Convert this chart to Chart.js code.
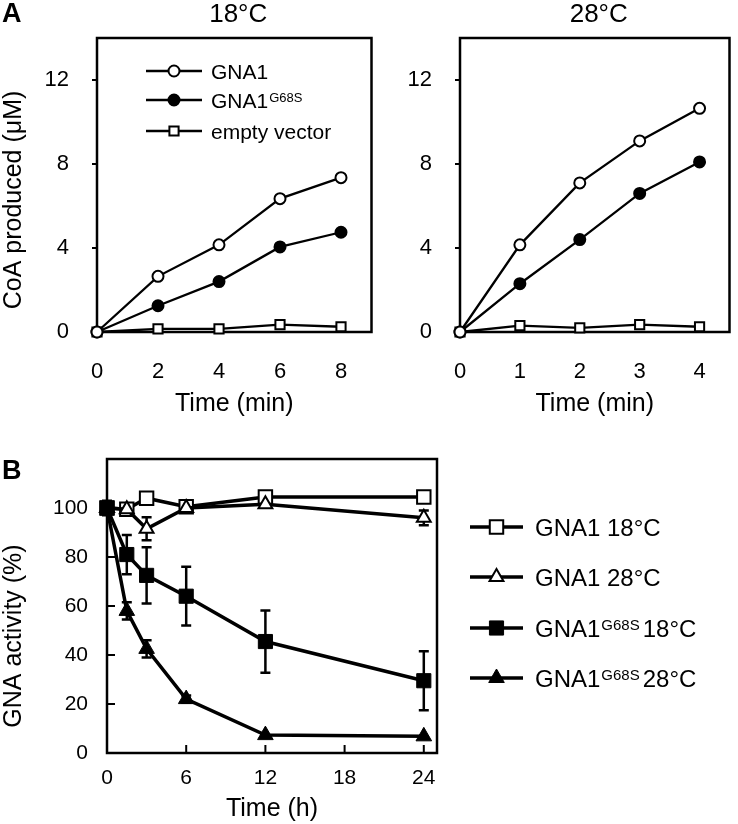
<!DOCTYPE html>
<html>
<head>
<meta charset="utf-8">
<script src="https://cdn.jsdelivr.net/npm/chart.js@4.4.1/dist/chart.umd.min.js"></script>
<style>
  body { margin: 0; background: #fff; }
  #wrap { position: relative; width: 738px; height: 824px; }
  canvas { position: absolute; }
</style>
</head>
<body>
<div id="wrap">
  <canvas id="a18" width="380" height="420" style="left:0;top:0"></canvas>
  <canvas id="a28" width="358" height="420" style="left:380px;top:0"></canvas>
  <canvas id="b" width="738" height="404" style="left:0;top:420px"></canvas>
</div>
<script>
// ---- panel A data (CoA produced, uM) ----
const timeA18 = [0, 2, 4, 6, 8];
const gna1A18 = [0, 2.65, 4.15, 6.35, 7.35];
const g68sA18 = [0, 1.25, 2.4, 4.05, 4.75];
const emptyA18 = [0, 0.15, 0.15, 0.35, 0.25];

const timeA28 = [0, 1, 2, 3, 4];
const gna1A28 = [0, 4.15, 7.1, 9.1, 10.65];
const g68sA28 = [0, 2.3, 4.4, 6.6, 8.1];
const emptyA28 = [0, 0.3, 0.2, 0.35, 0.25];

const yTicksA = [0, 4, 8, 12];
const xTicksA18 = [0, 2, 4, 6, 8];
const xTicksA28 = [0, 1, 2, 3, 4];
const namesA = ['GNA1', 'GNA1^G68S', 'empty vector'];

// ---- panel B data (GNA activity, %) ----
const timeB = [0, 1.5, 3, 6, 12, 24];
const gna18 = [100, 99.5, 104, 100.5, 104.5, 104.5];
const gna28 = [100, 99.5, 91.5, 100, 101.5, 96];
const mut18 = [100, 81, 72.5, 64, 45.5, 29.5];
const mut28 = [100, 58, 42.5, 22, 7.3, 6.8];
const gna18Err = [0, 0, 0, 0, 0, 0];
const gna28Err = [0, 0, 4.7, 0, 0, 3];
const mut18Err = [3, 8, 11.5, 12, 12.7, 12];
const mut28Err = [0, 3.5, 3.5, 1.5, 0, 0];

const yTicksB = [0, 20, 40, 60, 80, 100];
const xTicksB = [0, 6, 12, 18, 24];
const namesB = ['GNA1 18°C', 'GNA1 28°C', 'GNA1^G68S 18°C', 'GNA1^G68S 28°C'];

const FONT = '"Liberation Sans", Arial, sans-serif';
Chart.defaults.font.family = FONT;
Chart.defaults.color = '#000';

const pts = (xs, ys) => xs.map((x, i) => ({ x: x, y: ys[i] }));

function drawRich(ctx, text, x, y, size) {
  // y = visual middle of capitals; "^" starts a superscript
  const m = text.match(/^(.*?)\^(\S+)\s?(.*)$/);
  const base = y + size * 0.358;
  ctx.textBaseline = 'alphabetic';
  ctx.textAlign = 'left';
  ctx.font = size + 'px ' + FONT;
  if (!m) { ctx.fillText(text, x, base); return; }
  ctx.fillText(m[1], x, base);
  let cx = x + ctx.measureText(m[1]).width + 1;
  const sup = Math.round(size * 0.62);
  ctx.font = sup + 'px ' + FONT;
  ctx.fillText(m[2], cx, base - 0.716 * (size - sup));
  cx += ctx.measureText(m[2]).width + 3;
  if (m[3]) {
    ctx.font = size + 'px ' + FONT;
    ctx.fillText(m[3], cx, base);
  }
}

function marker(ctx, st, x, y) {
  ctx.fillStyle = st.fill;
  ctx.strokeStyle = '#000';
  ctx.lineWidth = st.bw;
  Chart.helpers.drawPoint(ctx, { pointStyle: st.shape, radius: st.r, rotation: 0, borderWidth: st.bw }, x, y);
}

function panelPlugin(cfg) {
  return {
    id: 'panel',
    beforeDatasetsDraw(chart) {
      const { ctx, chartArea: a, scales } = chart;
      ctx.save();
      ctx.strokeStyle = '#000';
      ctx.lineWidth = cfg.frame;
      ctx.strokeRect(a.left, a.top, a.right - a.left, a.bottom - a.top);
      if (cfg.inward) {
        ctx.lineWidth = 2;
        ctx.beginPath();
        scales.x.ticks.forEach(t => {
          const px = scales.x.getPixelForValue(t.value);
          ctx.moveTo(px, a.bottom); ctx.lineTo(px, a.bottom - 8);
        });
        scales.y.ticks.forEach(t => {
          const py = scales.y.getPixelForValue(t.value);
          ctx.moveTo(a.left, py); ctx.lineTo(a.left + 8, py);
        });
        ctx.stroke();
      }
      // error bars behind the markers
      ctx.lineWidth = 2.5;
      chart.data.datasets.forEach(ds => {
        if (!ds.errors) return;
        ds.data.forEach((p, j) => {
          const e = ds.errors[j];
          if (!e) return;
          const px = scales.x.getPixelForValue(p.x);
          const y1 = scales.y.getPixelForValue(p.y + e);
          const y2 = scales.y.getPixelForValue(p.y - e);
          ctx.beginPath();
          ctx.moveTo(px, y1); ctx.lineTo(px, y2);
          ctx.moveTo(px - 5, y1); ctx.lineTo(px + 5, y1);
          ctx.moveTo(px - 5, y2); ctx.lineTo(px + 5, y2);
          ctx.stroke();
        });
      });
      ctx.restore();
    },
    afterDraw(chart) {
      const { ctx, chartArea: a } = chart;
      ctx.save();
      ctx.fillStyle = '#000';
      if (cfg.letter) {
        ctx.font = 'bold 27px ' + FONT;
        ctx.textAlign = 'left';
        ctx.textBaseline = 'middle';
        ctx.fillText(cfg.letter, 2, cfg.letterY);
      }
      if (cfg.title) {
        ctx.font = '26px ' + FONT;
        ctx.textAlign = 'center';
        ctx.textBaseline = 'middle';
        ctx.fillText(cfg.title, (a.left + a.right) / 2 + 4, 15);
      }
      if (cfg.yTitle) {
        ctx.save();
        ctx.translate(cfg.yTitleX, cfg.yTitleY);
        ctx.rotate(-Math.PI / 2);
        ctx.font = '25px ' + FONT;
        ctx.textAlign = 'center';
        ctx.textBaseline = 'middle';
        ctx.fillText(cfg.yTitle, 0, 0);
        ctx.restore();
      }
      if (cfg.legend) {
        const L = cfg.legend;
        L.names.forEach((name, i) => {
          const y = L.rows[i];
          const st = L.styles[i];
          ctx.strokeStyle = '#000';
          ctx.lineWidth = L.lw;
          ctx.beginPath();
          ctx.moveTo(L.x0, y); ctx.lineTo(L.x1, y);
          ctx.stroke();
          marker(ctx, st, (L.x0 + L.x1) / 2, y);
          ctx.fillStyle = '#000';
          drawRich(ctx, name, L.tx, y, L.size);
        });
      }
      ctx.restore();
    }
  };
}

function lineSet(data, st, lw, errors) {
  return {
    data: data,
    borderColor: '#000',
    borderWidth: lw,
    pointStyle: st.shape,
    pointRadius: st.r,
    pointHoverRadius: st.r,
    pointBackgroundColor: st.fill,
    pointBorderColor: '#000',
    pointBorderWidth: st.bw,
    tension: 0,
    clip: false,
    errors: errors
  };
}

function axisA(ticks, max, yTicks, ymax, yWidth) {
  return {
    x: {
      type: 'linear', min: 0, max: max,
      afterBuildTicks: s => { s.ticks = ticks.map(v => ({ value: v })); },
      afterFit: s => { s.height = 88; },
      grid: { display: false },
      border: { display: false },
      ticks: { font: { size: 22 }, padding: 19, maxRotation: 0, color: '#000' },
      title: { display: true, text: 'Time (min)', font: { size: 25 }, padding: { top: 0, bottom: 1 }, color: '#000' }
    },
    y: {
      type: 'linear', min: 0, max: ymax,
      afterBuildTicks: s => { s.ticks = yTicks.map(v => ({ value: v })); },
      afterFit: s => { s.width = yWidth; },
      grid: { drawOnChartArea: false, drawTicks: true, tickLength: 5, color: '#000', lineWidth: 2 },
      border: { display: false },
      ticks: { font: { size: 22 }, padding: 23, color: '#000' }
    }
  };
}

const stOpenCircle = { shape: 'circle', r: 5.5, fill: '#fff', bw: 2 };
const stFullCircle = { shape: 'circle', r: 5.5, fill: '#000', bw: 2 };
const stOpenRect = { shape: 'rect', r: 6.5, fill: '#fff', bw: 2 };

// ---- A, 18 C ----
new Chart(document.getElementById('a18'), {
  type: 'line',
  data: {
    datasets: [
      lineSet(pts(timeA18, gna1A18), stOpenCircle, 2.3),
      lineSet(pts(timeA18, g68sA18), stFullCircle, 2.3),
      lineSet(pts(timeA18, emptyA18), stOpenRect, 2.3)
    ]
  },
  options: {
    responsive: false, animation: false,
    layout: { padding: { top: 38, right: 2, left: 0, bottom: 0 } },
    plugins: { legend: { display: false }, tooltip: { enabled: false } },
    scales: axisA(xTicksA18, 9, yTicksA, 14, 97)
  },
  plugins: [panelPlugin({
    frame: 2.5, letter: 'A', letterY: 15, title: '18°C',
    yTitle: 'CoA produced (μM)', yTitleX: 14, yTitleY: 200,
    legend: {
      names: namesA, rows: [71, 100, 131], x0: 146, x1: 202, tx: 211, size: 21, lw: 2.3,
      styles: [stOpenCircle, stFullCircle, stOpenRect]
    }
  })]
});

// ---- A, 28 C ----
new Chart(document.getElementById('a28'), {
  type: 'line',
  data: {
    datasets: [
      lineSet(pts(timeA28, gna1A28), stOpenCircle, 2.3),
      lineSet(pts(timeA28, g68sA28), stFullCircle, 2.3),
      lineSet(pts(timeA28, emptyA28), stOpenRect, 2.3)
    ]
  },
  options: {
    responsive: false, animation: false,
    layout: { padding: { top: 38, right: 6, left: 0, bottom: 0 } },
    plugins: { legend: { display: false }, tooltip: { enabled: false } },
    scales: axisA(xTicksA28, 4.5, yTicksA, 14, 80)
  },
  plugins: [panelPlugin({ frame: 2.5, title: '28°C' })]
});

// ---- B ----
const stB = [
  { shape: 'rect', r: 9.5, fill: '#fff', bw: 2 },
  { shape: 'triangle', r: 8, fill: '#fff', bw: 2 },
  { shape: 'rect', r: 10, fill: '#000', bw: 1 },
  { shape: 'triangle', r: 9, fill: '#000', bw: 1 }
];
const setsB = [
  lineSet(pts(timeB, gna18), stB[0], 3.5, gna18Err),
  lineSet(pts(timeB, gna28), stB[1], 3.5, gna28Err),
  lineSet(pts(timeB, mut18), stB[2], 3.5, mut18Err),
  lineSet(pts(timeB, mut28), stB[3], 3.5, mut28Err)
];
setsB[0].order = 3; setsB[1].order = 2; setsB[2].order = 0; setsB[3].order = 1;

new Chart(document.getElementById('b'), {
  type: 'line',
  data: { datasets: setsB },
  options: {
    responsive: false, animation: false,
    layout: { padding: { top: 39, right: 301, left: 0, bottom: 0 } },
    plugins: { legend: { display: false }, tooltip: { enabled: false } },
    scales: {
      x: {
        type: 'linear', min: 0, max: 25,
        afterBuildTicks: s => { s.ticks = xTicksB.map(v => ({ value: v })); },
        afterFit: s => { s.height = 71; },
        grid: { display: false },
        border: { display: false },
        ticks: { font: { size: 21 }, padding: 5, maxRotation: 0, color: '#000' },
        title: { display: true, text: 'Time (h)', font: { size: 25 }, padding: { top: 0, bottom: 0 }, color: '#000' }
      },
      y: {
        type: 'linear', min: 0, max: 120,
        afterBuildTicks: s => { s.ticks = yTicksB.map(v => ({ value: v })); },
        afterFit: s => { s.width = 107; },
        grid: { display: false },
        border: { display: false },
        ticks: { font: { size: 21 }, padding: 11, color: '#000' }
      }
    }
  },
  plugins: [panelPlugin({
    frame: 2.5, inward: true, letter: 'B', letterY: 52,
    yTitle: 'GNA activity (%)', yTitleX: 14, yTitleY: 216,
    legend: {
      names: namesB, rows: [107, 157, 208, 258], x0: 470, x1: 523, tx: 535, size: 24, lw: 3.5,
      styles: stB
    }
  })]
});
</script>
</body>
</html>
